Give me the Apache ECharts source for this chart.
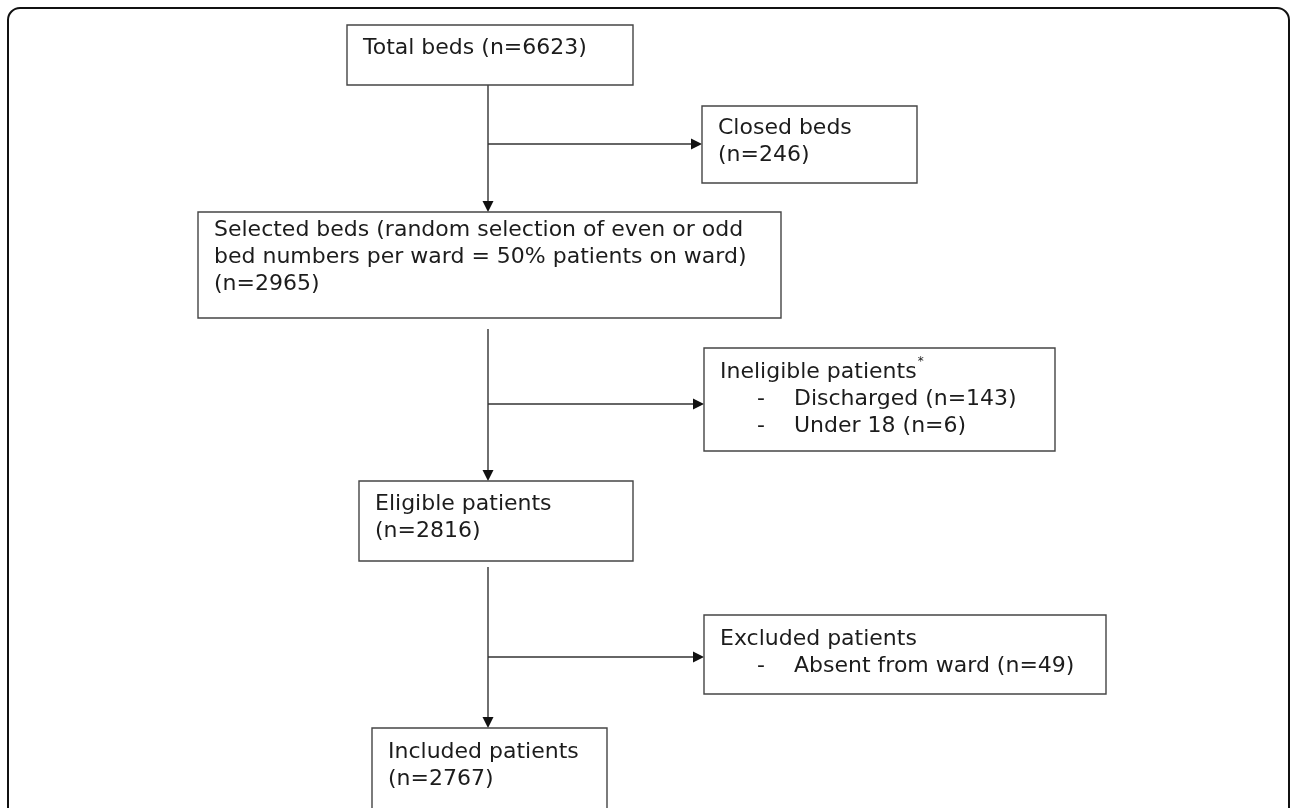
<!DOCTYPE html>
<html><head><meta charset="utf-8">
<script src="https://cdn.jsdelivr.net/npm/echarts/dist/echarts.min.js"></script>
<style>html,body{margin:0;padding:0;background:#fff}#c{width:1292px;height:808px}</style>
</head><body><div id="c"></div>
<script>
// ---------- data ----------
const stageNames = ['Total beds', 'Closed beds', 'Selected beds', 'Ineligible patients', 'Eligible patients', 'Excluded patients', 'Included patients'];
const stageCounts = [6623, 246, 2965, null, 2816, null, 2767];
const selectionNote = ['(random selection of even or odd', 'bed numbers per ward = 50% patients on ward)'];
const ineligibleReasons = ['Discharged', 'Under 18'];
const ineligibleCounts = [143, 6];
const excludedReasons = ['Absent from ward'];
const excludedCounts = [49];

// ---------- layout (pixel space of the hidden axes) ----------
const boxLayout = [
  [347, 25, 286, 60],
  [702, 106, 215, 77],
  [198, 212, 583, 106],
  [704, 348, 351, 103],
  [359, 481, 274, 80],
  [704, 615, 402, 79],
  [372, 728, 235, 110]
];
const firstBaseline = [30, 29, 25, 31, 30, 31, 31];
const lineGap = 27;
const trunkX = 488;
const trunkSegs = [[0, 2, 0], [2, 4, 11], [4, 6, 6]];
const branchSegs = [[1, 144], [3, 404], [5, 657]];

const FONT = '22px "DejaVu Sans", Verdana, sans-serif';
const TXT = '#1c1c1c';

function n(v) { return '(n=' + v + ')'; }
const boxText = [
  [{t: stageNames[0] + ' ' + n(stageCounts[0])}],
  [{t: stageNames[1]}, {t: n(stageCounts[1])}],
  [{t: stageNames[2] + ' ' + selectionNote[0]}, {t: selectionNote[1]}, {t: n(stageCounts[2])}],
  [{t: stageNames[3], sup: '*'}].concat(ineligibleReasons.map((r, k) => ({t: r + ' ' + n(ineligibleCounts[k]), bullet: true}))),
  [{t: stageNames[4]}, {t: n(stageCounts[4])}],
  [{t: stageNames[5]}].concat(excludedReasons.map((r, k) => ({t: r + ' ' + n(excludedCounts[k]), bullet: true}))),
  [{t: stageNames[6]}, {t: n(stageCounts[6])}]
];

const measureCtx = document.createElement('canvas').getContext('2d');
measureCtx.font = FONT;

function renderBox(params, api) {
  const i = api.value(0);
  const b = boxLayout[i];
  const p0 = api.coord([b[0], b[1]]);
  const p1 = api.coord([b[0] + b[2], b[1] + b[3]]);
  const children = [{
    type: 'rect',
    shape: {x: p0[0], y: p0[1], width: p1[0] - p0[0], height: p1[1] - p0[1]},
    style: {fill: '#fff', stroke: '#454545', lineWidth: 1.4}
  }];
  boxText[i].forEach((ln, k) => {
    const base = api.coord([b[0], b[1] + firstBaseline[i] + k * lineGap]);
    const y = base[1] - 7;
    const x0 = p0[0] + 16;
    if (ln.bullet) {
      children.push({type: 'text', x: x0 + 37, y: y, style: {text: '-', font: FONT, fill: TXT, verticalAlign: 'middle'}});
      children.push({type: 'text', x: x0 + 74, y: y, style: {text: ln.t, font: FONT, fill: TXT, verticalAlign: 'middle'}});
    } else {
      children.push({type: 'text', x: x0, y: y, style: {text: ln.t, font: FONT, fill: TXT, verticalAlign: 'middle'}});
      if (ln.sup) {
        const w = measureCtx.measureText(ln.t).width;
        children.push({type: 'text', x: x0 + w + 1, y: y - 10, style: {text: ln.sup, font: '12px "DejaVu Sans", sans-serif', fill: TXT, verticalAlign: 'middle'}});
      }
    }
  });
  return {type: 'group', children: children};
}

function arrowHead(tip, dir) {
  const L = 11, W = 5.5;
  if (dir === 'down') return [[tip[0], tip[1]], [tip[0] - W, tip[1] - L], [tip[0] + W, tip[1] - L]];
  return [[tip[0], tip[1]], [tip[0] - L, tip[1] - W], [tip[0] - L, tip[1] + W]];
}

function renderConnector(params, api) {
  const kind = api.value(0);
  const idx = api.value(1);
  const children = [];
  if (kind === 0) {
    const s = trunkSegs[idx];
    const a = boxLayout[s[0]], c = boxLayout[s[1]];
    const start = api.coord([trunkX, a[1] + a[3] + s[2]]);
    const end = api.coord([trunkX, c[1]]);
    children.push({type: 'line', shape: {x1: start[0], y1: start[1], x2: end[0], y2: end[1] - 8}, style: {stroke: '#222', lineWidth: 1.3}});
    children.push({type: 'polygon', shape: {points: arrowHead(end, 'down')}, style: {fill: '#111'}});
  } else {
    const s = branchSegs[idx];
    const c = boxLayout[s[0]];
    const start = api.coord([trunkX, s[1]]);
    const end = api.coord([c[0], s[1]]);
    children.push({type: 'line', shape: {x1: start[0], y1: start[1], x2: end[0] - 8, y2: end[1]}, style: {stroke: '#333', lineWidth: 1.3}});
    children.push({type: 'polygon', shape: {points: arrowHead(end, 'right')}, style: {fill: '#111'}});
  }
  return {type: 'group', children: children};
}

const chart = echarts.init(document.getElementById('c'), null, {renderer: 'canvas'});
chart.setOption({
  animation: false,
  backgroundColor: '#fff',
  grid: {left: 0, right: 0, top: 0, bottom: 0},
  xAxis: {type: 'value', min: 0, max: 1292, show: false},
  yAxis: {type: 'value', min: 0, max: 808, inverse: true, show: false},
  graphic: [{
    type: 'rect', z: -1, silent: true,
    shape: {x: 8, y: 8, width: 1281, height: 840, r: 12},
    style: {fill: 'none', stroke: '#111', lineWidth: 2}
  }],
  series: [
    {
      type: 'custom', renderItem: renderConnector, z: 1,
      data: trunkSegs.map((s, k) => [0, k]).concat(branchSegs.map((s, k) => [1, k])),
      encode: {x: -1, y: -1}
    },
    {
      type: 'custom', renderItem: renderBox, z: 2,
      data: stageNames.map((s, k) => [k]),
      encode: {x: -1, y: -1}
    }
  ]
});
</script>
</body></html>
